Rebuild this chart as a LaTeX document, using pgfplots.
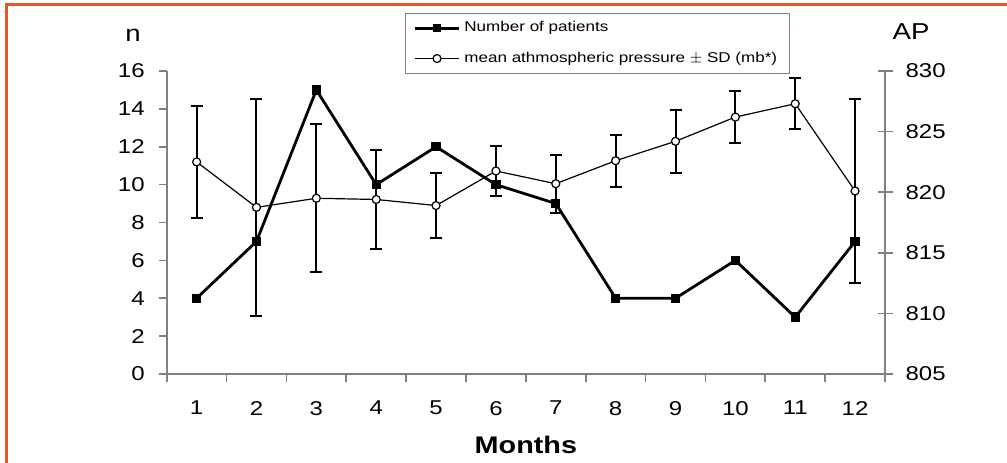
\documentclass[border=0pt]{standalone}
\usepackage{fontspec}
\setmainfont[FakeStretch=1.2]{Liberation Sans}
\usepackage{pgfplots}
\pgfplotsset{compat=1.18}
\definecolor{frameorange}{RGB}{232,86,38}
\definecolor{axgray}{RGB}{128,128,128}
\begin{document}
\begin{tikzpicture}
\useasboundingbox (0,0) rectangle (503.5pt,231pt);
\draw[frameorange, line width=1.5pt] (3.2pt,-1pt) -- (3.2pt,229pt) -- (504pt,229pt);
\pgfplotsset{
  common/.style={
    at={(83.35pt,44pt)}, anchor=south west, scale only axis,
    width=359.15pt, height=151.5pt,
    xmin=0.5, xmax=12.5,
    /pgf/number format/assume math mode=true,
    ticklabel style={font=\fontsize{10}{12}\selectfont},
    axis line style={draw=axgray, line width=0.8pt, -},
    every tick/.style={draw=axgray, line width=0.8pt},
    clip=false,
  }
}
\begin{axis}[common,
  ymin=0, ymax=16, ytick={0,2,...,16},
  axis y line*=left, axis x line*=bottom,
  xtick={1,...,12}, major x tick style={draw=none},
  minor xtick={0.5,1.5,...,12.5},
  x tick label style={yshift=-6pt},
  tick align=outside, major tick length=4pt, minor tick length=4pt,
  y tick label style={xshift=-3.5pt},
  xlabel={\fontsize{12}{14}\selectfont\bfseries Months},
  every axis x label/.style={at={(axis description cs:0.5,0)}, anchor=center, yshift=-35.5pt},
  ylabel={\fontsize{11.5}{13}\selectfont n},
  every axis y label/.style={at={(axis description cs:0,1)}, anchor=center, xshift=-16.85pt, yshift=18pt},
]
\addplot[black, line width=1.4pt, mark=square*, mark size=2.1pt, mark options={solid, line width=0.5pt}]
  coordinates {(1,4) (2,7) (3,15) (4,10) (5,12) (6,10) (7,9) (8,4) (9,4) (10,6) (11,3) (12,7)};
\end{axis}
\begin{axis}[common,
  ymin=805, ymax=830, ytick={805,810,...,830},
  axis y line*=right, axis x line=none,
  tick align=center, major tick length=7.5pt,
  y tick label style={xshift=3pt},
  ylabel={\fontsize{11.5}{13}\selectfont AP},
  every axis y label/.style={at={(axis description cs:1,1)}, anchor=center, xshift=13pt, yshift=19.5pt},
  legend style={at={(0.3318,1.1914)}, anchor=north west, draw=axgray, line width=0.6pt,
    font=\fontsize{7.1}{9}\selectfont, inner xsep=4pt, inner ysep=2pt, row sep=4.5pt,
    legend cell align=left},
  legend image code/.code={%
    \draw[mark repeat=2, mark phase=2, #1] plot coordinates {(0pt,0pt) (11pt,0pt) (22pt,0pt)};},
]
\addlegendimage{black, line width=1.4pt, mark=square*, mark size=1.8pt, mark options={solid, line width=0.5pt}}
\addlegendentry{Number of patients}
\addplot[black, line width=0.6pt, mark=*, mark size=2pt, mark options={fill=white, line width=0.6pt},
  error bars/.cd, y dir=both, y explicit,
  error bar style={line width=1pt, black},
  error mark options={rotate=90, mark size=3pt, line width=1pt, black}]
  coordinates {
  (1,822.5) +- (0,4.6)
  (2,818.75) +- (0,8.95)
  (3,819.5) +- (0,6.1)
  (4,819.4) +- (0,4.1)
  (5,818.9) +- (0,2.7)
  (6,821.75) +- (0,2.05)
  (7,820.7) +- (0,2.4)
  (8,822.6) +- (0,2.15)
  (9,824.2) +- (0,2.6)
  (10,826.2) +- (0,2.15)
  (11,827.3) +- (0,2.1)
  (12,820.1) +- (0,7.6)
  };
\addlegendentry{mean athmospheric pressure $\pm$ SD (mb*)}
\end{axis}
\end{tikzpicture}
\end{document}
